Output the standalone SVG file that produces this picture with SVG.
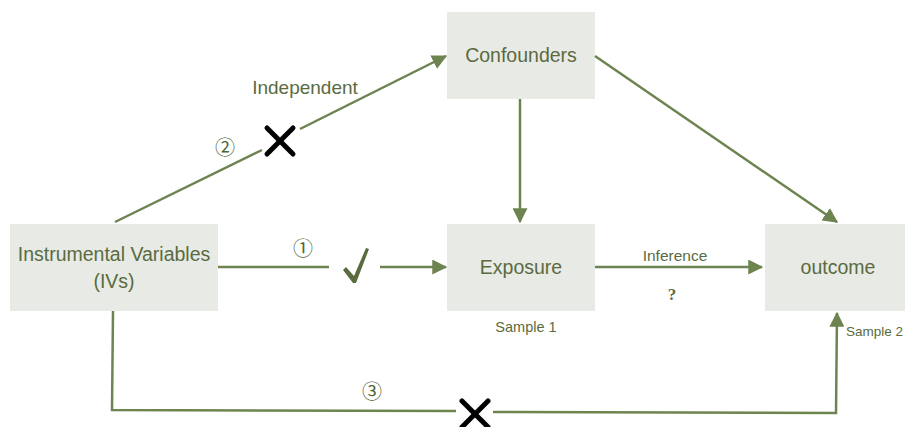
<svg xmlns="http://www.w3.org/2000/svg" width="905" height="427" viewBox="0 0 905 427">
<style>
.box{fill:#E8EAE5}
.lbl{font-family:"Liberation Sans",Arial,sans-serif;fill:#5A6B40;text-anchor:middle}
.conn{stroke:#6E8450;stroke-width:2.5;fill:none}
.cross{stroke:#000;stroke-width:5;stroke-linecap:round}
.num{font-family:"Noto Sans CJK JP","DejaVu Sans",sans-serif;fill:#4F6236;font-size:20px;text-anchor:middle}
</style>
<defs>
<marker id="arr" viewBox="0 0 12 12" refX="11" refY="6" markerWidth="15" markerHeight="15" orient="auto" markerUnits="userSpaceOnUse">
<path d="M0,0 L12,6 L0,12 z" fill="#6E8450"/>
</marker>
</defs>
<rect width="905" height="427" fill="#fff"/>
<g id="confounders"><rect class="box" x="447" y="12" width="148" height="87"/><text class="lbl" x="521" y="62" font-size="19.5">Confounders</text></g>
<g id="exposure"><rect class="box" x="447" y="224" width="148" height="87"/><text class="lbl" x="521" y="274" font-size="19.5">Exposure</text></g>
<g id="ivs"><rect class="box" x="10" y="224" width="208" height="87"/><text class="lbl" x="114" y="261" font-size="19.5">Instrumental Variables</text><text class="lbl" x="114" y="288" font-size="19.5">(IVs)</text></g>
<g id="outcome"><rect class="box" x="765" y="224" width="145" height="87"/><text class="lbl" x="838" y="274" font-size="19.5">outcome</text></g>
<g id="connectors">
<line class="conn" x1="115" y1="222" x2="262" y2="150"/>
<line class="conn" x1="300" y1="129" x2="446" y2="56" marker-end="url(#arr)"/>
<line class="conn" x1="218" y1="267" x2="329" y2="267"/>
<line class="conn" x1="380" y1="267" x2="446" y2="267" marker-end="url(#arr)"/>
<line class="conn" x1="595" y1="267" x2="762" y2="267" marker-end="url(#arr)"/>
<line class="conn" x1="520" y1="99" x2="520" y2="222" marker-end="url(#arr)"/>
<line class="conn" x1="595" y1="56" x2="837" y2="222" marker-end="url(#arr)"/>
<polyline class="conn" points="113,311 112,410 456,411"/>
<polyline class="conn" points="493,412 836,413 837,313" marker-end="url(#arr)"/>
</g>
<g id="marks">
<line class="cross" x1="267" y1="128" x2="293" y2="154"/>
<line class="cross" x1="293" y1="128" x2="267" y2="154"/>
<line class="cross" x1="462" y1="401" x2="488" y2="427"/>
<line class="cross" x1="488" y1="401" x2="462" y2="427"/>
<path d="M343,270 L346,267 L354,276 L366,248 L369,249 L356,283 L353,283 Z" fill="#5A6B40"/>
</g>
<g id="labels">
<text class="lbl" x="305" y="94" font-size="19">Independent</text>
<text class="num" x="225" y="155">②</text>
<text class="num" x="303" y="256">①</text>
<text class="num" x="372" y="399">③</text>
<text class="lbl" x="675" y="261" font-size="15.5">Inference</text>
<text class="lbl" x="672" y="300" font-size="17" font-weight="bold" style="font-family:'Liberation Serif',serif">?</text>
<text class="lbl" x="526" y="332" font-size="14.5">Sample 1</text>
<text class="lbl" x="846" y="336" font-size="13.5" style="text-anchor:start">Sample 2</text>
</g>
</svg>
